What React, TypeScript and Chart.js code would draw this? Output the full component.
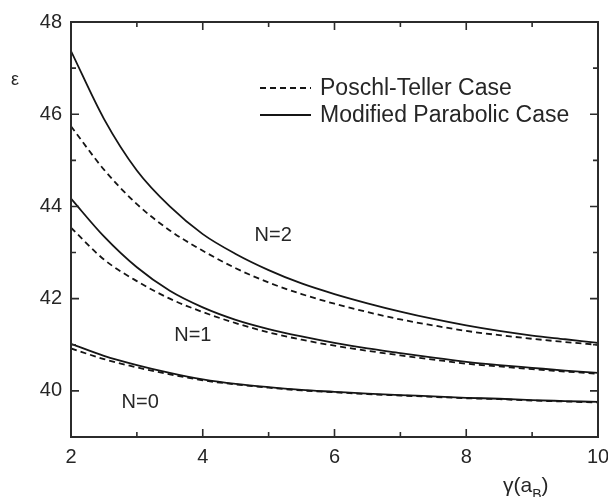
import React, { useEffect, useRef } from "react";
import { Chart, registerables } from "chart.js";

Chart.register(...registerables);

// ---- data ----
const gammaValues = [2, 2.5, 3, 3.5, 4, 4.5, 5, 5.5, 6, 6.5, 7, 7.5, 8, 8.5, 9, 9.5, 10];

const n2Modified = [47.37, 45.9, 44.78, 44.0, 43.4, 42.97, 42.62, 42.33, 42.1, 41.9, 41.72, 41.56, 41.42, 41.3, 41.2, 41.12, 41.04];
const n2Poschl = [45.74, 44.8, 44.05, 43.48, 43.04, 42.66, 42.35, 42.1, 41.89, 41.71, 41.55, 41.42, 41.3, 41.21, 41.13, 41.06, 41.0];
const n1Modified = [44.17, 43.35, 42.68, 42.17, 41.81, 41.54, 41.34, 41.18, 41.04, 40.92, 40.82, 40.72, 40.63, 40.56, 40.5, 40.44, 40.39];
const n1Poschl = [43.54, 42.85, 42.38, 42.0, 41.71, 41.47, 41.27, 41.11, 40.98, 40.87, 40.77, 40.68, 40.59, 40.53, 40.47, 40.42, 40.37];
const n0Modified = [41.02, 40.76, 40.56, 40.39, 40.25, 40.15, 40.08, 40.02, 39.98, 39.94, 39.91, 39.88, 39.85, 39.83, 39.8, 39.78, 39.76];
const n0Poschl = [40.92, 40.69, 40.51, 40.36, 40.23, 40.14, 40.07, 40.01, 39.97, 39.93, 39.9, 39.87, 39.84, 39.82, 39.79, 39.77, 39.75];

const xTickValues = [2, 4, 6, 8, 10];
const yTickValues = [40, 42, 44, 46, 48];
const xMinorTicks = [3, 5, 7, 9];
const yMinorTicks = [39, 41, 43, 45, 47];

const legendLabels = ["Poschl-Teller Case", "Modified Parabolic Case"];
const curveLabelTexts = ["N=2", "N=1", "N=0"];
const curveLabelX = [5.07, 3.85, 3.05];
const curveLabelY = [43.37, 41.2, 39.74];

const FONT = '"Liberation Sans", Arial, Helvetica, sans-serif';
const INK = "#151515";
const AXIS = "#2b2b2b";
const TEXT = "#262626";
const DASH = [6, 4];

function toPoints(ys: number[]) {
  return gammaValues.map((g, i) => ({ x: g, y: ys[i] }));
}

const decorPlugin = {
  id: "decor",
  afterDatasetsDraw(chart: any) {
    const { ctx, chartArea, scales } = chart;
    const { left, top, right, bottom } = chartArea;
    const xs = scales.x;
    const ys = scales.y;
    ctx.save();

    // frame
    ctx.strokeStyle = AXIS;
    ctx.lineWidth = 2;
    ctx.setLineDash([]);
    ctx.strokeRect(left, top, right - left, bottom - top);

    // inward ticks on all sides
    ctx.lineWidth = 1.6;
    const major = 8;
    const minor = 5;
    const drawX = (vals: number[], len: number) => {
      vals.forEach((v) => {
        const px = xs.getPixelForValue(v);
        ctx.beginPath();
        ctx.moveTo(px, bottom);
        ctx.lineTo(px, bottom - len);
        ctx.moveTo(px, top);
        ctx.lineTo(px, top + len);
        ctx.stroke();
      });
    };
    const drawY = (vals: number[], len: number) => {
      vals.forEach((v) => {
        const py = ys.getPixelForValue(v);
        ctx.beginPath();
        ctx.moveTo(left, py);
        ctx.lineTo(left + len, py);
        ctx.moveTo(right, py);
        ctx.lineTo(right - len, py);
        ctx.stroke();
      });
    };
    drawX(xTickValues, major);
    drawX(xMinorTicks, minor);
    drawY(yTickValues, major);
    drawY(yMinorTicks, minor);

    // curve annotations
    ctx.fillStyle = TEXT;
    ctx.font = `20px ${FONT}`;
    ctx.textAlign = "center";
    ctx.textBaseline = "middle";
    curveLabelTexts.forEach((t, i) => {
      ctx.fillText(t, xs.getPixelForValue(curveLabelX[i]), ys.getPixelForValue(curveLabelY[i]));
    });

    // legend
    const lx0 = 260;
    const lx1 = 311;
    const rows = [88, 115];
    ctx.strokeStyle = INK;
    ctx.lineWidth = 1.8;
    rows.forEach((ry, i) => {
      ctx.setLineDash(i === 0 ? DASH : []);
      ctx.beginPath();
      ctx.moveTo(lx0, ry);
      ctx.lineTo(lx1, ry);
      ctx.stroke();
    });
    ctx.setLineDash([]);
    ctx.font = `23px ${FONT}`;
    ctx.textAlign = "left";
    ctx.textBaseline = "middle";
    ctx.fillStyle = TEXT;
    legendLabels.forEach((t, i) => ctx.fillText(t, 320, rows[i] + 1));

    // y axis title
    ctx.font = `18px ${FONT}`;
    ctx.textAlign = "center";
    ctx.fillText("ε", 15, 80);

    // x axis title γ(a_B)
    ctx.textAlign = "left";
    ctx.textBaseline = "alphabetic";
    ctx.font = `21px ${FONT}`;
    const base = 492;
    let cx = 503;
    ctx.fillText("γ(a", cx, base);
    cx += ctx.measureText("γ(a").width;
    ctx.font = `14px ${FONT}`;
    ctx.fillText("B", cx, base + 7);
    cx += ctx.measureText("B").width;
    ctx.font = `21px ${FONT}`;
    ctx.fillText(")", cx, base);

    ctx.restore();
  },
};

export default function App() {
  const ref = useRef<HTMLCanvasElement>(null);

  useEffect(() => {
    document.body.style.margin = "0";
    document.body.style.overflow = "hidden";
    const canvas = ref.current;
    if (!canvas) return;

    const mk = (label: string, ys: number[], dashed: boolean) => ({
      label,
      data: toPoints(ys),
      borderColor: INK,
      borderWidth: 1.8,
      borderDash: dashed ? DASH : [],
      pointRadius: 0,
      fill: false,
      cubicInterpolationMode: "monotone" as const,
    });

    const chart = new Chart(canvas, {
      type: "line",
      data: {
        datasets: [
          mk("N=2 Poschl-Teller", n2Poschl, true),
          mk("N=2 Modified Parabolic", n2Modified, false),
          mk("N=1 Poschl-Teller", n1Poschl, true),
          mk("N=1 Modified Parabolic", n1Modified, false),
          mk("N=0 Poschl-Teller", n0Poschl, true),
          mk("N=0 Modified Parabolic", n0Modified, false),
        ],
      },
      options: {
        animation: false,
        responsive: false,
        layout: { padding: { top: 22, right: 10, left: 0, bottom: 0 } },
        plugins: {
          legend: { display: false },
          tooltip: { enabled: false },
        },
        scales: {
          x: {
            type: "linear",
            min: 2,
            max: 10,
            grid: { display: false, drawTicks: false },
            border: { display: false },
            afterBuildTicks: (s: any) => {
              s.ticks = xTickValues.map((v) => ({ value: v }));
            },
            ticks: {
              padding: 8,
              color: TEXT,
              font: { family: FONT, size: 20 },
              maxRotation: 0,
              autoSkip: false,
            },
            afterFit: (s: any) => {
              s.height = 60;
              s.paddingLeft = 0;
              s.paddingRight = 0;
            },
          },
          y: {
            type: "linear",
            min: 39,
            max: 48,
            grid: { display: false, drawTicks: false },
            border: { display: false },
            afterBuildTicks: (s: any) => {
              s.ticks = yTickValues.map((v) => ({ value: v }));
            },
            ticks: {
              padding: 9,
              color: TEXT,
              font: { family: FONT, size: 20 },
              autoSkip: false,
            },
            afterFit: (s: any) => {
              s.width = 71;
              s.paddingTop = 0;
              s.paddingBottom = 0;
            },
          },
        },
      },
      plugins: [decorPlugin],
    });

    return () => chart.destroy();
  }, []);

  return (
    <div style={{ width: 608, height: 497, background: "#fff" }}>
      <canvas ref={ref} width={608} height={497} style={{ display: "block" }} />
    </div>
  );
}
